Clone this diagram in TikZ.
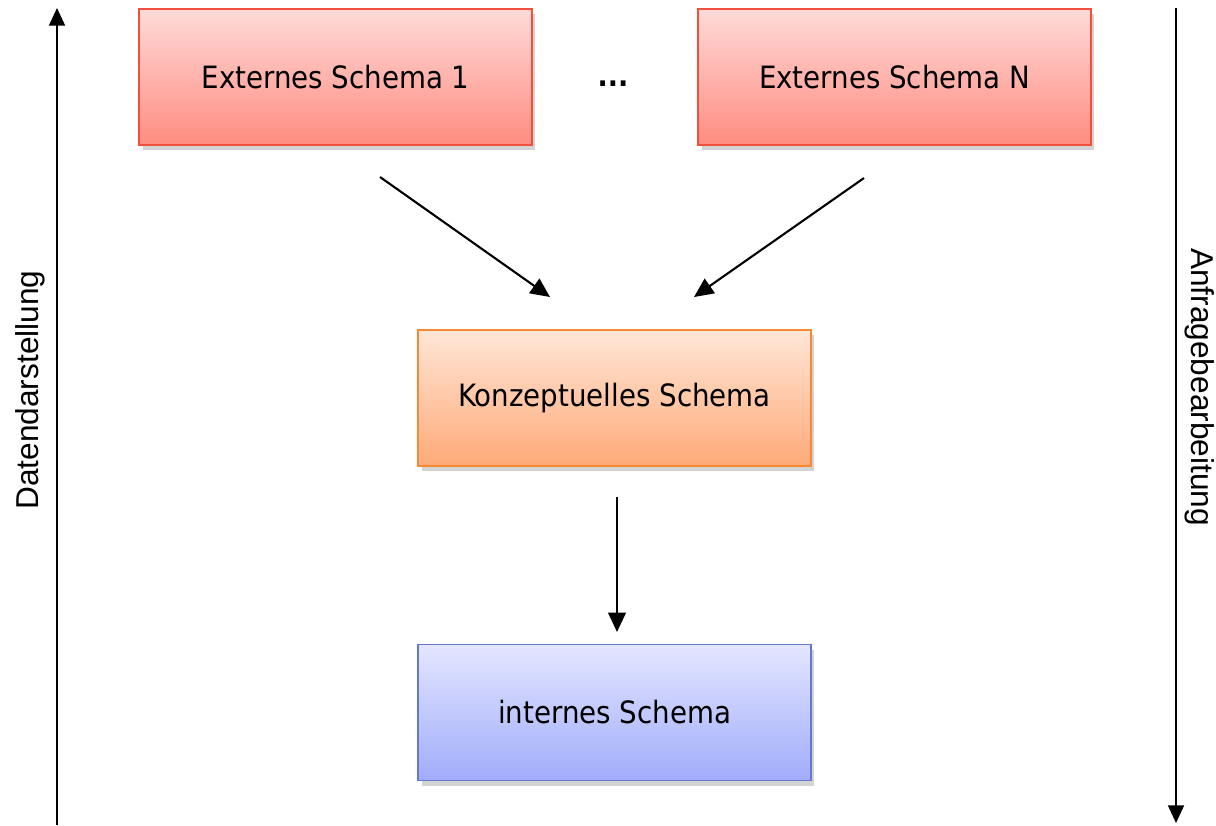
\documentclass[tikz,border=0pt]{standalone}
\usepackage{fontspec}
\setmainfont{DejaVu Sans Condensed}
\newfontfamily\sidefont{Liberation Sans}
\usetikzlibrary{shadows,arrows.meta}
\definecolor{redtop}{RGB}{255,218,216}
\definecolor{redbot}{RGB}{255,140,128}
\definecolor{redline}{RGB}{240,80,60}
\definecolor{ortop}{RGB}{255,230,215}
\definecolor{orbot}{RGB}{255,170,120}
\definecolor{orline}{RGB}{250,135,50}
\definecolor{bltop}{RGB}{228,230,255}
\definecolor{blbot}{RGB}{160,172,250}
\definecolor{blline}{RGB}{100,120,210}
\tikzset{
  schemabox/.style={draw, line width=1pt, minimum width=7.86cm, minimum height=2.72cm,
    inner sep=0pt, font=\fontsize{17.5}{20}\selectfont,
    drop shadow={shadow xshift=2pt, shadow yshift=-3pt, opacity=0.35}},
  extbox/.style={schemabox, draw=redline, top color=redtop, bottom color=redbot},
  konzbox/.style={schemabox, draw=orline, top color=ortop, bottom color=orbot},
  intbox/.style={schemabox, draw=blline, top color=bltop, bottom color=blbot},
  conn/.style={-{Triangle[length=11pt,width=10pt]}, line width=1.2pt},
  sideaxis/.style={-{Triangle[length=10pt,width=9pt]}, line width=1.2pt},
  sidelabel/.style={font=\sidefont\fontsize{18}{20}\selectfont, inner sep=0pt}
}
\begin{document}
\begin{tikzpicture}[x=0.02cm,y=-0.02cm]
\useasboundingbox (0,0) rectangle (1216,825);
\node[extbox] (e1) at (335.5,77) {Externes Schema 1};
\node[extbox] (en) at (894.5,77) {Externes Schema N};
\node[font=\fontsize{17}{20}\selectfont\bfseries] (dots) at (613,84) {...};
\node[konzbox] (k) at (614.5,398) {Konzeptuelles Schema};
\node[intbox] (i) at (614.5,712.5) {internes Schema};
\coordinate (a1s) at (380,177);
\coordinate (a1e) at (550,297);
\coordinate (a2s) at (864,178);
\coordinate (a2e) at (694,297);
\coordinate (a3s) at (617,497);
\coordinate (a3e) at (617,632);
\draw[conn] (a1s) -- (a1e);
\draw[conn] (a2s) -- (a2e);
\draw[conn] (a3s) -- (a3e);
\coordinate (lb) at (57,825);
\coordinate (lt) at (57,8);
\coordinate (rt) at (1176,8);
\coordinate (rb) at (1176,823);
\draw[sideaxis] (lb) -- (lt);
\draw[sideaxis] (rt) -- (rb);
\node[sidelabel, rotate=90] (dl) at (30,390) {Datendarstellung};
\node[sidelabel, rotate=-90] (al) at (1200,387) {Anfragebearbeitung};
\end{tikzpicture}
\end{document}
